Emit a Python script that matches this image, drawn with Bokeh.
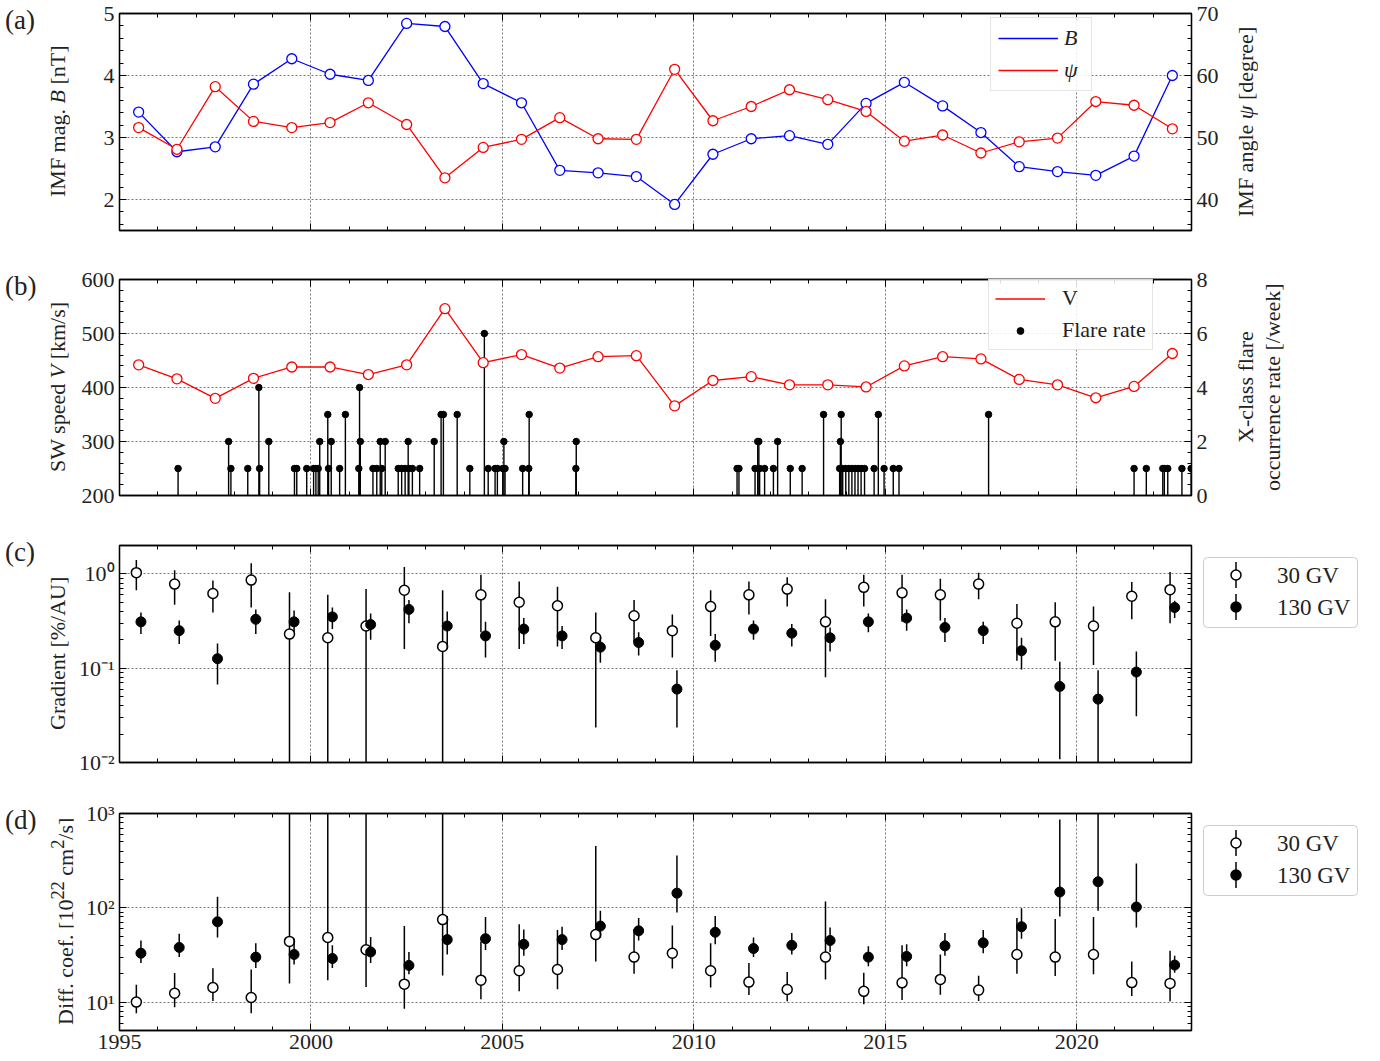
import math
from bokeh.plotting import figure
from bokeh.layouts import column, row
from bokeh.models import (Range1d, LinearAxis, LogAxis, Legend, LegendItem, Div,
                          ColumnDataSource, CustomJSTickFormatter, FixedTicker,
                          SingleIntervalTicker)
from bokeh.embed import file_html
from bokeh.resources import INLINE

# ---------------- data ----------------
years = [1995.5, 1996.5, 1997.5, 1998.5, 1999.5, 2000.5, 2001.5, 2002.5, 2003.5, 2004.5,
         2005.5, 2006.5, 2007.5, 2008.5, 2009.5, 2010.5, 2011.5, 2012.5, 2013.5, 2014.5,
         2015.5, 2016.5, 2017.5, 2018.5, 2019.5, 2020.5, 2021.5, 2022.5]

imf_b = [3.41, 2.77, 2.85, 3.86, 4.27, 4.02, 3.92, 4.84, 4.79, 3.87, 3.56, 2.47, 2.43, 2.37,
         1.92, 2.73, 2.98, 3.03, 2.89, 3.55, 3.89, 3.51, 3.08, 2.53, 2.45, 2.39, 2.70, 4.00]
imf_psi = [51.6, 48.1, 58.2, 52.6, 51.6, 52.4, 55.6, 52.1, 43.5, 48.4, 49.7, 53.2, 49.8, 49.7,
           61.0, 52.7, 55.0, 57.7, 56.1, 54.2, 49.4, 50.4, 47.5, 49.3, 49.9, 55.8, 55.2, 51.4]

sw_v = [442, 416, 380, 417, 438, 438, 424, 442, 546, 446, 461, 436, 457, 459,
        366, 413, 420, 405, 405, 401, 440, 457, 453, 415, 405, 381, 402, 463]

flare_t = [1996.53, 1997.85, 1997.91, 1998.35, 1998.64, 1998.66, 1998.90, 1999.57, 1999.63,
           1999.89, 2000.07, 2000.13, 2000.19, 2000.23, 2000.44, 2000.46, 2000.53, 2000.75,
           2000.90, 2001.25, 2001.27, 2001.29, 2001.62, 2001.72, 2001.81, 2001.85, 2001.94,
           2002.28, 2002.37, 2002.46, 2002.54, 2002.56, 2002.65, 2002.84, 2003.22, 2003.40,
           2003.46, 2003.82, 2004.15, 2004.53, 2004.63, 2004.81, 2004.87, 2005.01, 2005.04,
           2005.07, 2005.53, 2005.69, 2005.70, 2006.92, 2006.93,
           2011.13, 2011.18, 2011.60, 2011.67, 2011.70, 2011.72, 2011.85, 2012.08, 2012.19,
           2012.52, 2012.83, 2013.39, 2013.81, 2013.83, 2013.85, 2013.89, 2013.97, 2014.05,
           2014.13, 2014.21, 2014.29, 2014.37, 2014.46, 2014.71, 2014.82, 2014.97, 2015.21,
           2015.36, 2017.70, 2021.50, 2021.82, 2022.25, 2022.29, 2022.38, 2022.75, 2022.99]
flare_rate = [1, 2, 1, 1, 4, 1, 2, 1, 1,
              1, 1, 1, 1, 2, 3, 1, 2, 1,
              3, 1, 4, 2, 1, 1, 2, 1, 2,
              1, 1, 1, 2, 1, 1, 1, 2, 3,
              3, 3, 1, 6, 1, 1, 1, 1, 2,
              1, 1, 1, 3, 1, 2,
              1, 1, 1, 2, 2, 1, 1, 1, 2,
              1, 1, 3, 1, 2, 3, 1, 1, 1,
              1, 1, 1, 1, 1, 1, 3, 1, 1,
              1, 3, 1, 1, 1, 1, 1, 1, 1]

grad30 = [1.03, 0.78, 0.62, 0.86, 0.23, 0.21, 0.28, 0.67, 0.17, 0.60, 0.50, 0.46, 0.21, 0.36,
          0.25, 0.45, 0.60, 0.69, 0.31, 0.72, 0.63, 0.60, 0.78, 0.30, 0.31, 0.28, 0.58, 0.68]
grad30_hi = [1.40, 1.09, 0.85, 1.30, 0.64, 0.60, 0.69, 1.18, 0.67, 0.98, 0.83, 0.73, 0.39, 0.53,
             0.37, 0.67, 0.83, 0.92, 0.54, 0.98, 0.98, 0.89, 1.03, 0.48, 0.50, 0.45, 0.82, 1.05]
grad30_lo = [0.67, 0.47, 0.39, 0.44, 0.001, 0.001, 0.001, 0.16, 0.001, 0.24, 0.16, 0.17, 0.0235,
             0.19, 0.13, 0.22, 0.37, 0.45, 0.080, 0.45, 0.31, 0.32, 0.54, 0.12, 0.12, 0.108,
             0.33, 0.30]
grad130 = [0.31, 0.25, 0.126, 0.33, 0.31, 0.35, 0.29, 0.42, 0.28, 0.22, 0.26, 0.22, 0.167, 0.187,
           0.060, 0.175, 0.26, 0.235, 0.21, 0.31, 0.34, 0.27, 0.25, 0.153, 0.064, 0.047, 0.091,
           0.44]
grad130_hi = [0.39, 0.32, 0.183, 0.42, 0.41, 0.44, 0.38, 0.53, 0.40, 0.31, 0.34, 0.28, 0.215,
              0.24, 0.095, 0.23, 0.32, 0.295, 0.27, 0.38, 0.42, 0.34, 0.31, 0.21, 0.117, 0.095,
              0.15, 0.52]
grad130_lo = [0.23, 0.18, 0.067, 0.23, 0.24, 0.26, 0.20, 0.30, 0.16, 0.13, 0.18, 0.16, 0.114,
              0.136, 0.0235, 0.117, 0.20, 0.17, 0.15, 0.24, 0.25, 0.19, 0.18, 0.097, 0.0108,
              0.001, 0.031, 0.34]

diff30 = [10.0, 12.4, 14.3, 11.2, 44, 48.5, 35.9, 15.5, 75, 17.1, 21.5, 22.2, 52, 30,
          33, 21.5, 16.3, 13.6, 30, 13, 16, 17.4, 13.4, 32, 30, 32, 16.1, 15.8]
diff30_hi = [15.3, 20.3, 22.9, 22.2, 5000, 5000, 5000, 64, 5000, 44, 67, 58, 451, 59,
             65, 42, 26, 20.8, 117, 20.5, 40, 32, 19, 78, 76, 80, 27, 35]
diff30_lo = [7.6, 8.8, 10.3, 7.6, 15.8, 17.1, 14.5, 8.5, 19.2, 10.7, 13, 13.7, 27, 20,
             22.7, 14.3, 11.9, 10.2, 17.4, 9.5, 10.5, 12, 10.3, 20, 18.9, 19.8, 11.6, 10.2]
diff130 = [33, 38, 71, 30, 32, 29, 34, 24.5, 46, 47, 41, 46, 64, 57,
           143, 55, 37, 40, 45, 30, 30.5, 39.5, 42.5, 63, 147, 189, 102, 24.7]
diff130_hi = [45, 53, 131, 42, 47, 40, 49, 34, 82, 80, 59, 63, 93, 78,
              359, 82, 48.5, 54, 62, 39, 41, 54, 58, 99, 863, 5000, 295, 31]
diff130_lo = [26, 30, 48.5, 23, 25, 23, 26, 19.8, 32, 35.6, 31, 35.6, 48, 45,
              89, 41, 30, 32, 34, 24, 24, 31, 33, 47, 81, 93, 62, 20.5]

legend_labels = ["30 GV", "130 GV"]

# ---------------- style ----------------
FONT = "Liberation Serif"
CSS_FONT = "'Liberation Serif',serif"
TICK_FS = "22px"
LEG_FS = "22px"
SHIFT = 0.06
PANEL_DIV_W = 45
TITLE_DIV_W = 28
LEFT_BORDER = 46
FRAME_W = 1072

x_range = Range1d(1995, 2023)

LOG_FMT = CustomJSTickFormatter(code="""
const sup = {"-": "\u207b", "0": "\u2070", "1": "\u00b9", "2": "\u00b2", "3": "\u00b3",
             "4": "\u2074", "5": "\u2075", "6": "\u2076", "7": "\u2077", "8": "\u2078", "9": "\u2079"};
const e = Math.round(Math.log10(tick));
return "10" + String(e).split("").map(c => sup[c]).join("");
""")


def style_axis(ax, labels=True):
    ax.major_tick_in = 7
    ax.major_tick_out = 0
    ax.minor_tick_in = 4
    ax.minor_tick_out = 0
    ax.axis_line_color = "black"
    ax.axis_line_width = 1.3
    ax.major_tick_line_color = "black"
    ax.minor_tick_line_color = "black"
    ax.major_label_text_font = FONT
    ax.major_label_text_font_size = TICK_FS
    ax.major_label_text_color = "#222222"
    ax.major_label_standoff = 5
    if not labels:
        ax.major_label_text_font_size = "2px"
        ax.major_label_text_color = None
        ax.major_label_standoff = 0


def x_ticker():
    return SingleIntervalTicker(interval=5, num_minor_ticks=5)


def make_fig(height, top, bottom, right, y_range, y_type="linear"):
    p = figure(width=LEFT_BORDER + FRAME_W + right, height=height, x_range=x_range,
               y_range=y_range, y_axis_type=y_type, output_backend="svg",
               toolbar_location=None, min_border_left=LEFT_BORDER, min_border_right=right,
               min_border_top=top, min_border_bottom=bottom, margin=0)
    p.outline_line_color = "black"
    p.outline_line_width = 1.3
    p.xaxis.ticker = x_ticker()
    for ax in p.xaxis:
        style_axis(ax, labels=False)
    for ax in p.yaxis:
        style_axis(ax)
    top_ax = LinearAxis(ticker=x_ticker())
    style_axis(top_ax, labels=False)
    p.add_layout(top_ax, "above")
    for g in p.xgrid + p.ygrid:
        g.grid_line_color = "#555555"
        g.grid_line_width = 0.8
        g.grid_line_dash = "2 2"
    p.ygrid.minor_grid_line_color = None
    return p


def panel_div(text, height, top):
    html = ('<div style="font-family:%s; font-size:27px; line-height:27px;'
            ' color:#222; margin-top:%dpx; margin-left:5px; white-space:nowrap;">%s</div>'
            % (CSS_FONT, top - 6, text))
    return Div(text=html, width=PANEL_DIV_W, height=height, margin=0)


def vertical_title_div(lines, height, top, frame_h, width, ml, lh):
    html = ('<div style="margin-top:%dpx; margin-left:%dpx; height:%dpx; writing-mode:vertical-rl;'
            ' transform:rotate(180deg); text-align:center; font-family:%s;'
            ' font-size:22px; line-height:%dpx; color:#222; white-space:nowrap;">%s</div>'
            % (top, ml, frame_h, CSS_FONT, lh, "<br>".join(lines)))
    return Div(text=html, width=width, height=height, margin=0)


def legend_div(width, height, top):
    rows = []
    fills = ["white", "black"]
    for i, lab in enumerate(legend_labels):
        cy = top + 30 + 32 * i
        rows.append('<line x1="35" y1="%d" x2="35" y2="%d" stroke="black" stroke-width="1.5"/>'
                    % (cy - 13, cy + 13))
        rows.append('<circle cx="35" cy="%d" r="5" fill="%s" stroke="black" stroke-width="1.5"/>'
                    % (cy, fills[i]))
        rows.append('<text x="76" y="%d" dominant-baseline="central" fill="#222222"'
                    ' style="font-family:%s; font-size:23px;">%s</text>' % (cy, CSS_FONT, lab))
    svg = ('<svg width="%d" height="%d" xmlns="http://www.w3.org/2000/svg">'
           '<rect x="2.5" y="%.1f" width="154" height="70" rx="4" ry="4" fill="white"'
           ' stroke="#cccccc" stroke-width="1"/>%s</svg>'
           % (width, 110, top + 12.5, "".join(rows)))
    return Div(text=svg, width=width, height=height, margin=0)


# ---------------- (a) ----------------
RIGHT_AB = 37
TOP_A = 13
pa = make_fig(266, TOP_A, 36, RIGHT_AB, Range1d(1.5, 5))
pa.yaxis.ticker = SingleIntervalTicker(interval=1, num_minor_ticks=5)
pa.extra_y_ranges = {"psi": Range1d(35, 70)}
ra = LinearAxis(y_range_name="psi", ticker=SingleIntervalTicker(interval=10, num_minor_ticks=5))
style_axis(ra)
pa.add_layout(ra, "right")

src_a = ColumnDataSource(dict(x=years, b=imf_b, psi=imf_psi))
lb = pa.line("x", "b", source=src_a, line_color="#0000ff", line_width=1.3)
pa.scatter("x", "b", source=src_a, size=10, fill_color="white", line_color="#0000ff",
           line_width=1.3)
lp = pa.line("x", "psi", source=src_a, y_range_name="psi", line_color="#ff0000", line_width=1.3)
pa.scatter("x", "psi", source=src_a, y_range_name="psi", size=10, fill_color="white",
           line_color="#ff0000", line_width=1.3)
leg_a = Legend(items=[LegendItem(label="B", renderers=[lb]),
                      LegendItem(label="\u03c8", renderers=[lp])],
               location=(871, 139), glyph_width=60, glyph_height=26, label_standoff=6,
               padding=7, spacing=6, label_text_font=FONT, label_text_font_size=LEG_FS,
               label_text_font_style="italic", border_line_color="#cccccc",
               background_fill_alpha=0.85, label_text_color="#222222")
pa.add_layout(leg_a)

# ---------------- (b) ----------------
TOP_B = 13
pb = make_fig(269, TOP_B, 40, RIGHT_AB, Range1d(200, 600))
pb.yaxis.ticker = SingleIntervalTicker(interval=100, num_minor_ticks=5)
pb.extra_y_ranges = {"flare": Range1d(0, 8)}
rb = LinearAxis(y_range_name="flare", ticker=SingleIntervalTicker(interval=2, num_minor_ticks=5))
style_axis(rb)
pb.add_layout(rb, "right")

src_f = ColumnDataSource(dict(t=flare_t, v=flare_rate, z=[0] * len(flare_t)))
pb.segment(x0="t", y0="z", x1="t", y1="v", source=src_f, y_range_name="flare",
           line_color="black", line_width=1.4)
fd = pb.scatter("t", "v", source=src_f, y_range_name="flare", size=6.5, fill_color="black",
                line_color="black")
src_b = ColumnDataSource(dict(x=years, v=sw_v))
lv = pb.line("x", "v", source=src_b, line_color="#ff0000", line_width=1.3)
pb.scatter("x", "v", source=src_b, size=10, fill_color="white", line_color="#ff0000",
           line_width=1.3)
leg_b = Legend(items=[LegendItem(label="V", renderers=[lv]),
                      LegendItem(label="Flare rate", renderers=[fd])],
               location=(869, 145), glyph_width=50, glyph_height=17, label_standoff=17,
               padding=6, spacing=6, label_text_font=FONT, label_text_font_size=LEG_FS,
               border_line_color="#cccccc", background_fill_alpha=0.85,
               label_text_color="#222222")
pb.add_layout(leg_b)


# ---------------- (c) and (d) ----------------
def err_panel(p, v30, lo30, hi30, v130, lo130, hi130):
    x30 = [x - SHIFT for x in years]
    x130 = [x + SHIFT for x in years]
    s30 = ColumnDataSource(dict(x=x30, y=v30, lo=lo30, hi=hi30))
    s130 = ColumnDataSource(dict(x=x130, y=v130, lo=lo130, hi=hi130))
    p.segment(x0="x", y0="lo", x1="x", y1="hi", source=s30, line_color="black", line_width=1.5)
    p.scatter("x", "y", source=s30, size=10, fill_color="white", line_color="black",
              line_width=1.5)
    p.segment(x0="x", y0="lo", x1="x", y1="hi", source=s130, line_color="black", line_width=1.5)
    p.scatter("x", "y", source=s130, size=10, fill_color="black", line_color="black")


RIGHT_CD = 10
TOP_C = 10
TOP_D = 13
cminor = [0.02, 0.03, 0.04, 0.05, 0.06, 0.07, 0.08, 0.09,
          0.2, 0.3, 0.4, 0.5, 0.6, 0.7, 0.8, 0.9, 2]
pc = make_fig(265, TOP_C, 38, RIGHT_CD, Range1d(0.01, 2), y_type="log")
pc.yaxis.ticker = FixedTicker(ticks=[0.01, 0.1, 1], minor_ticks=cminor)
pc.yaxis.formatter = LOG_FMT
rc = LogAxis(ticker=FixedTicker(ticks=[0.01, 0.1, 1], minor_ticks=cminor))
style_axis(rc, labels=False)
pc.add_layout(rc, "right")
err_panel(pc, grad30, grad30_lo, grad30_hi, grad130, grad130_lo, grad130_hi)

pd_ = make_fig(261, TOP_D, 31, RIGHT_CD, Range1d(5, 1000), y_type="log")
bottom_ax = pd_.below[0]
bottom_ax.major_label_text_font_size = TICK_FS
bottom_ax.major_label_text_color = "#222222"
bottom_ax.major_label_standoff = 4
dminor = [6, 7, 8, 9, 20, 30, 40, 50, 60, 70, 80, 90, 200, 300, 400, 500, 600, 700, 800, 900]
pd_.yaxis.ticker = FixedTicker(ticks=[10, 100, 1000], minor_ticks=dminor)
pd_.yaxis.formatter = LOG_FMT
rd = LogAxis(ticker=FixedTicker(ticks=[10, 100, 1000], minor_ticks=dminor))
style_axis(rd, labels=False)
pd_.add_layout(rd, "right")
err_panel(pd_, diff30, diff30_lo, diff30_hi, diff130, diff130_lo, diff130_hi)

# ---------------- layout ----------------
USED = PANEL_DIV_W + TITLE_DIV_W + LEFT_BORDER + FRAME_W
W_AB = 1380 - USED - RIGHT_AB
W_CD = 1380 - USED - RIGHT_CD

row_a = row(panel_div("(a)", 266, TOP_A),
            vertical_title_div(["IMF mag. <i>B</i> [nT]"], 266, TOP_A, 217, TITLE_DIV_W, 0, 26),
            pa,
            vertical_title_div(["IMF angle <i>\u03c8</i> [degree]"], 266, TOP_A, 217, W_AB, 5, 26),
            spacing=0)
row_b = row(panel_div("(b)", 269, TOP_B),
            vertical_title_div(["SW speed <i>V</i> [km/s]"], 269, TOP_B, 216, TITLE_DIV_W, 0, 26),
            pb,
            vertical_title_div(["X-class flare", "occurrence rate [/week]"], 269, TOP_B, 216,
                               W_AB, 4, 27),
            spacing=0)
row_c = row(panel_div("(c)", 265, TOP_C),
            vertical_title_div(["Gradient [%/AU]"], 265, TOP_C, 217, TITLE_DIV_W, 0, 26),
            pc, legend_div(W_CD, 265, TOP_C), spacing=0)
row_d = row(panel_div("(d)", 261, TOP_D),
            vertical_title_div(["Diff. coef. [10<sup>22</sup> cm<sup>2</sup>/s]"], 261, TOP_D, 217,
                               TITLE_DIV_W, 0, 26),
            pd_, legend_div(W_CD, 261, TOP_D), spacing=0)

layout = column(row_a, row_b, row_c, row_d, spacing=0)
open("out.html", "w").write(file_html(layout, INLINE))
